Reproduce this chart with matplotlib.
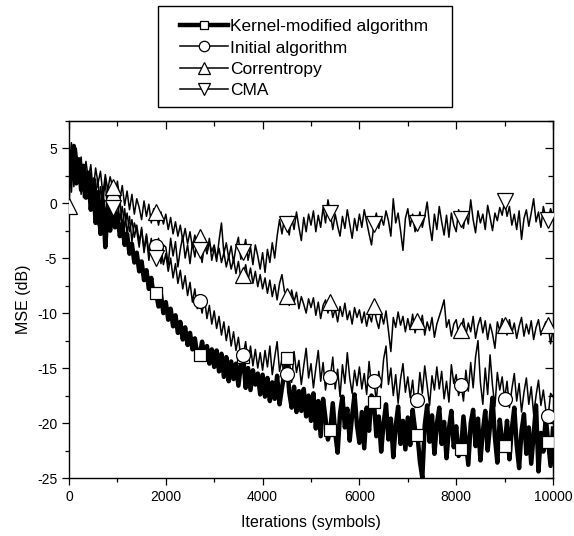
import numpy as np
import matplotlib
matplotlib.use("Agg")
import matplotlib.pyplot as plt
from matplotlib.lines import Line2D
from matplotlib.patches import Rectangle
from matplotlib.ticker import MultipleLocator, NullFormatter

plt.rcParams['font.family'] = ['Liberation Sans', 'DejaVu Sans']
plt.rcParams['axes.unicode_minus'] = False

iterations = np.arange(0, 10001, 50)

kernel_mse = [
    4.0, 2.2, 5.2, 1.8, 4.0, 1.2, 3.4, 0.5, 2.6, -0.6, 1.8, -1.8, 1.0, -2.8, 0.2, -4.0, -0.5, -2.5, 0.3, -2.2,
    -1.0, -3.0, -1.9, -3.8, -2.8, -4.6, -3.7, -5.4, -4.5, -6.2, -5.3, -7.0, -6.1, -7.8, -6.8, -8.6, -8.2, -9.4, -8.3, -10.0,
    -9.0, -10.6, -9.6, -11.2, -10.2, -11.8, -10.8, -12.4, -11.3, -12.9, -11.8, -13.3, -12.3, -13.8, -13.8, -12.6, -14.2, -13.0, -14.6, -13.3,
    -14.9, -13.4, -15.3, -13.7, -15.8, -14.0, -16.2, -14.4, -16.0, -14.6, -16.6, -14.8, -14.0, -16.8, -15.0, -17.0, -15.2, -16.5, -15.5, -17.4,
    -15.6, -17.6, -15.9, -18.0, -16.3, -17.8, -15.7, -18.3, -16.8, -15.5, -14.1, -17.2, -18.6, -16.7, -19.0, -17.1, -18.9, -16.9, -19.4, -17.5,
    -19.8, -17.3, -20.5, -18.0, -21.2, -17.8, -19.6, -21.5, -20.6, -18.2, -20.9, -22.7, -19.1, -17.6, -20.4, -18.7, -21.6, -19.3, -17.4, -20.2,
    -21.8, -19.0, -22.3, -18.6, -20.7, -17.5, -18.1, -21.2, -19.4, -22.6, -20.0, -18.3, -21.5, -19.6, -23.1, -20.3, -18.5, -21.9, -19.8, -22.4,
    -19.5, -22.0, -18.8, -20.6, -21.1, -23.5, -25.0, -20.2, -18.4, -21.7, -19.3, -22.8, -20.1, -18.6, -21.9, -19.9, -23.2, -20.5, -18.9, -22.2,
    -20.3, -23.0, -22.4, -19.4, -21.6, -23.8, -20.0, -18.8, -22.1, -19.6, -23.4, -20.8, -18.9, -22.5, -20.2, -17.7, -21.3, -23.6, -19.7, -21.8,
    -22.1, -19.8, -23.3, -20.5, -18.6, -22.0, -24.1, -20.7, -19.2, -22.8, -20.4, -23.7, -21.0, -18.4, -24.4, -20.9, -22.6, -19.5, -21.7, -23.9,
    -20.5,
]

initial_mse = [
    3.5, 1.0, 4.8, 2.5, 3.9, 0.8, 3.2, 1.6, 2.9, -0.3, 2.3, 0.9, 2.0, -0.8, 1.5, -1.5, 1.2, -0.4, 0.3, -1.2,
    0.4, -1.6, -0.3, -2.2, -0.9, -2.6, -1.5, -3.1, -2.0, -3.5, -2.4, -4.2, -2.8, -4.5, -3.2, -5.0, -3.9, -5.2, -4.0, -5.6,
    -4.6, -6.2, -5.0, -6.8, -5.5, -7.3, -6.1, -7.8, -6.6, -8.4, -7.2, -9.0, -7.8, -9.6, -8.9, -10.0, -8.6, -10.5, -9.3, -11.0,
    -9.8, -11.4, -10.3, -12.0, -10.8, -12.5, -11.2, -13.0, -11.7, -13.4, -12.2, -14.0, -13.8, -12.6, -14.5, -13.0, -14.8, -13.3, -15.0, -13.6,
    -15.2, -13.4, -14.9, -13.0, -15.6, -14.0, -12.6, -15.3, -14.2, -16.0, -15.5, -14.1, -16.3, -13.5, -15.4, -14.3, -16.5, -14.8, -13.2, -15.9,
    -14.6, -16.8, -15.0, -13.4, -16.2, -14.5, -17.0, -15.3, -15.8, -14.0, -16.9, -15.1, -17.6, -14.7, -16.4, -13.6, -15.9, -17.3, -15.2, -16.6,
    -14.9, -16.9, -15.5, -17.4, -14.4, -16.7, -16.2, -18.0, -15.3, -16.8, -14.2, -13.0, -16.5, -15.0, -17.5, -15.6, -18.2, -16.0, -14.6, -17.2,
    -15.8, -17.7, -16.1, -18.6, -17.9, -15.4, -17.3, -14.8, -16.6, -18.4, -15.7, -17.0, -14.9, -16.9, -15.3, -17.8, -16.2, -18.1, -14.7, -16.4,
    -15.6, -17.5, -16.5, -18.0, -15.2, -17.1, -14.5, -16.8, -14.0, -12.5, -16.3, -18.3, -15.0, -17.4, -13.8, -16.6, -18.5, -15.4, -17.0, -15.8,
    -17.8, -16.2, -18.6, -16.9, -15.5, -18.0, -16.4, -19.0, -17.2, -15.9, -18.3, -16.7, -19.2, -17.5, -16.1, -18.4, -17.0, -18.8, -19.4, -17.3,
    -17.6,
]

correntropy_mse = [
    -0.3, 4.5, 2.0, 5.0, 2.8, 4.2, 1.5, 3.8, 2.2, 3.5, 1.0, 3.2, 1.8, 2.9, 0.8, 2.6, 1.2, 2.4, 1.5, 0.6,
    2.0, 0.3, 1.6, -0.2, 1.1, -0.6, 0.8, -1.0, 0.4, -0.4, -1.5, 0.2, -1.2, -0.1, -1.8, -0.5, -0.85, -2.0, -0.8, -1.9,
    -1.0, -2.4, -1.3, -2.8, -1.7, -3.0, -2.0, -3.4, -2.3, -3.7, -2.6, -4.0, -2.9, -3.9, -3.1, -4.3, -3.2, -4.6, -3.5, -4.4,
    -3.8, -5.0, -4.1, -5.4, -4.5, -5.8, -4.8, -6.0, -5.1, -6.4, -5.3, -6.8, -6.5, -5.6, -7.0, -5.9, -7.3, -6.2, -7.6, -6.5,
    -7.8, -6.8, -8.2, -7.0, -8.5, -7.4, -8.8, -7.3, -6.5, -8.0, -8.4, -9.3, -7.9, -9.0, -8.1, -9.6, -8.5, -9.2, -10.0, -8.7,
    -9.5, -8.6, -10.2, -9.0, -10.5, -9.3, -8.8, -10.0, -9.0, -10.4, -9.6, -10.8, -9.4, -10.3, -9.1, -10.6, -9.8, -11.0, -9.5, -10.4,
    -9.7, -10.9, -9.9, -11.2, -10.1, -10.8, -9.4, -10.6, -11.4, -10.0, -11.0, -9.8, -11.6, -13.5, -10.4, -11.3, -9.9, -11.1, -10.3, -11.7,
    -10.5, -11.5, -10.1, -11.8, -10.7, -11.4, -10.2, -12.0, -10.8, -11.6, -10.4, -12.2, -11.0, -10.3, -9.6, -8.8, -11.3, -10.6, -12.1, -11.0,
    -10.6, -11.9, -11.5, -10.5, -12.0, -10.9, -11.7, -10.3, -12.3, -11.1, -10.4, -11.8, -10.7, -12.4, -11.0, -11.9, -13.2, -10.8, -11.6, -10.5,
    -11.1, -12.0, -10.6, -11.8, -10.9, -12.3, -11.2, -10.4, -12.1, -11.0, -11.9, -10.7, -12.4, -11.3, -10.6, -12.0, -11.4, -10.8, -11.1, -12.8,
    -11.5,
]

cma_mse = [
    3.0, 5.5, 1.5, 4.2, 2.0, 3.8, 0.5, 3.0, 1.2, 2.8, -0.5, 2.2, -2.0, 1.5, 0.2, 2.0, -1.0, 1.0, -0.4, 0.8,
    -1.5, 0.5, -2.2, -0.5, -2.8, -1.2, -3.5, -1.8, -2.5, -4.0, -2.2, -4.5, -3.0, -5.2, -3.5, -4.8, -5.0, -3.2, -5.5, -3.8,
    -4.0, -5.6, -3.2, -4.8, -3.5, -5.8, -4.2, -3.0, -5.0, -3.8, -5.5, -3.6, -4.9, -3.3, -4.3, -5.4, -3.7, -4.6, -3.2, -5.2,
    -4.1, -5.3, -3.4, -1.8, -4.6, -3.6, -5.0, -3.9, -5.4, -4.0, -3.1, -5.1, -4.4, -3.3, -5.2, -4.0, -5.6, -3.8, -4.8, -6.0,
    -4.5, -6.3, -4.2, -5.4, -3.6, -5.0, -3.0, -1.5, -2.8, -1.4, -1.9, -2.9, -1.2, -2.4, -0.8, -2.2, -3.4, -1.3, -2.6, -1.0,
    -2.0, -0.7, -2.6, -1.1, -2.2, -0.4, -1.8, 0.3, -0.9, -2.4, -1.0, -2.1, -3.0, -1.2, -2.3, -0.6, -1.9, -3.2, -1.4, -2.5,
    -1.0, -2.2, -0.6, -1.7, -2.8, -3.8, -1.9, -0.9, -2.3, -1.3, -2.0, -0.7, -1.6, -3.0, 0.4, -1.8, -0.9, -2.5, -4.3, -1.4,
    -0.5, -2.1, -1.0, -2.6, -1.8, -0.8, -2.2, -1.2, 0.1, -2.0, -3.4, -1.0, -2.4, -0.3, -1.7, -2.9, -1.1, -3.1, -0.9, -2.0,
    -2.6, -0.6, -1.4, -2.3, -0.8, -1.9, 0.3, -1.5, -2.7, -0.7, -1.8, -1.0, -2.4, -0.2, -1.3, -2.5, -0.9, -1.6, -0.4, -1.1,
    0.2, -1.2, -0.3, -2.0, -1.0, -2.4, -0.7, -3.3, -1.4, -0.6, -2.1, -0.9, 0.4, -1.7, -0.8, -2.2, -0.3, -1.3, -1.5, -0.5,
    -1.2,
]

labels = ['Kernel-modified algorithm', 'Initial algorithm', 'Correntropy', 'CMA']
series = [kernel_mse, initial_mse, correntropy_mse, cma_mse]
markers = ['s', 'o', '^', 'v']
marker_sizes = [8.5, 10, 11, 11]
line_widths = [3.2, 1.1, 1.1, 1.1]
# a marker every 900 symbols; only the correntropy one shows at 0
marker_idx = [np.arange(18, 201, 18), np.arange(18, 201, 18), np.arange(0, 201, 18), np.arange(18, 201, 18)]

fig = plt.figure(figsize=(5.74, 5.36), dpi=100)
ax = fig.add_axes([69 / 574, 58 / 536, 484 / 574, 357.3 / 536])

for y, lw in zip(series, line_widths):
    ax.plot(iterations, y, color='black', lw=lw, zorder=2)

for k, (y, m, ms) in enumerate(zip(series, markers, marker_sizes)):
    y = np.asarray(y)
    idx = marker_idx[k]
    ax.plot(iterations[idx], y[idx], ls='none', marker=m, ms=ms, mfc='white',
            mec='black', mew=0.9, zorder=3 + k)

ax.set_xlim(0, 10000)
ax.set_ylim(-25, 7.5)
ax.xaxis.set_major_locator(MultipleLocator(2000))
ax.xaxis.set_minor_locator(MultipleLocator(1000))
ax.yaxis.set_minor_locator(MultipleLocator(2.5))
ax.set_yticks([-25, -20, -15, -10, -5, 0, 5])
ax.tick_params(which='both', direction='out', labelsize=10, width=0.9)
ax.tick_params(which='major', length=5)
ax.tick_params(which='minor', length=3)
for s in ax.spines.values():
    s.set_linewidth(1.0)

secx = ax.secondary_xaxis('top')
secx.xaxis.set_major_locator(MultipleLocator(2000))
secx.xaxis.set_minor_locator(MultipleLocator(1000))
secx.xaxis.set_major_formatter(NullFormatter())
secx.tick_params(which='both', direction='in', width=0.9)
secx.tick_params(which='major', length=6)
secx.tick_params(which='minor', length=3.5)

secy = ax.secondary_yaxis('right')
secy.yaxis.set_major_locator(MultipleLocator(5))
secy.yaxis.set_minor_locator(MultipleLocator(2.5))
secy.yaxis.set_major_formatter(NullFormatter())
secy.tick_params(which='both', direction='in', width=0.9)
secy.tick_params(which='major', length=6)
secy.tick_params(which='minor', length=3.5)

ax.set_xlabel('Iterations (symbols)', fontsize=11.5, labelpad=8)
ax.set_ylabel('MSE (dB)', fontsize=11.5, labelpad=4)

# legend entries without frame, box drawn separately to get the wide side margins
handles = [Line2D([], [], color='black', lw=lw, marker=m, ms=ms * 0.75, mfc='white', mec='black', mew=0.9)
           for m, ms, lw in zip(markers, marker_sizes, line_widths)]
fig.legend(handles, labels, loc='upper left', bbox_to_anchor=(180 / 574, 1 - 19 / 536),
           fontsize=12.5, frameon=False, handlelength=2.75, handletextpad=0.15,
           labelspacing=0.36, borderpad=0.0, borderaxespad=0.0)
fig.patches.append(Rectangle((158 / 574, 1 - 107 / 536), 294 / 574, 101 / 536,
                             transform=fig.transFigure, fill=False, edgecolor='black', lw=1.0))

fig.savefig('out.png', dpi=100)
